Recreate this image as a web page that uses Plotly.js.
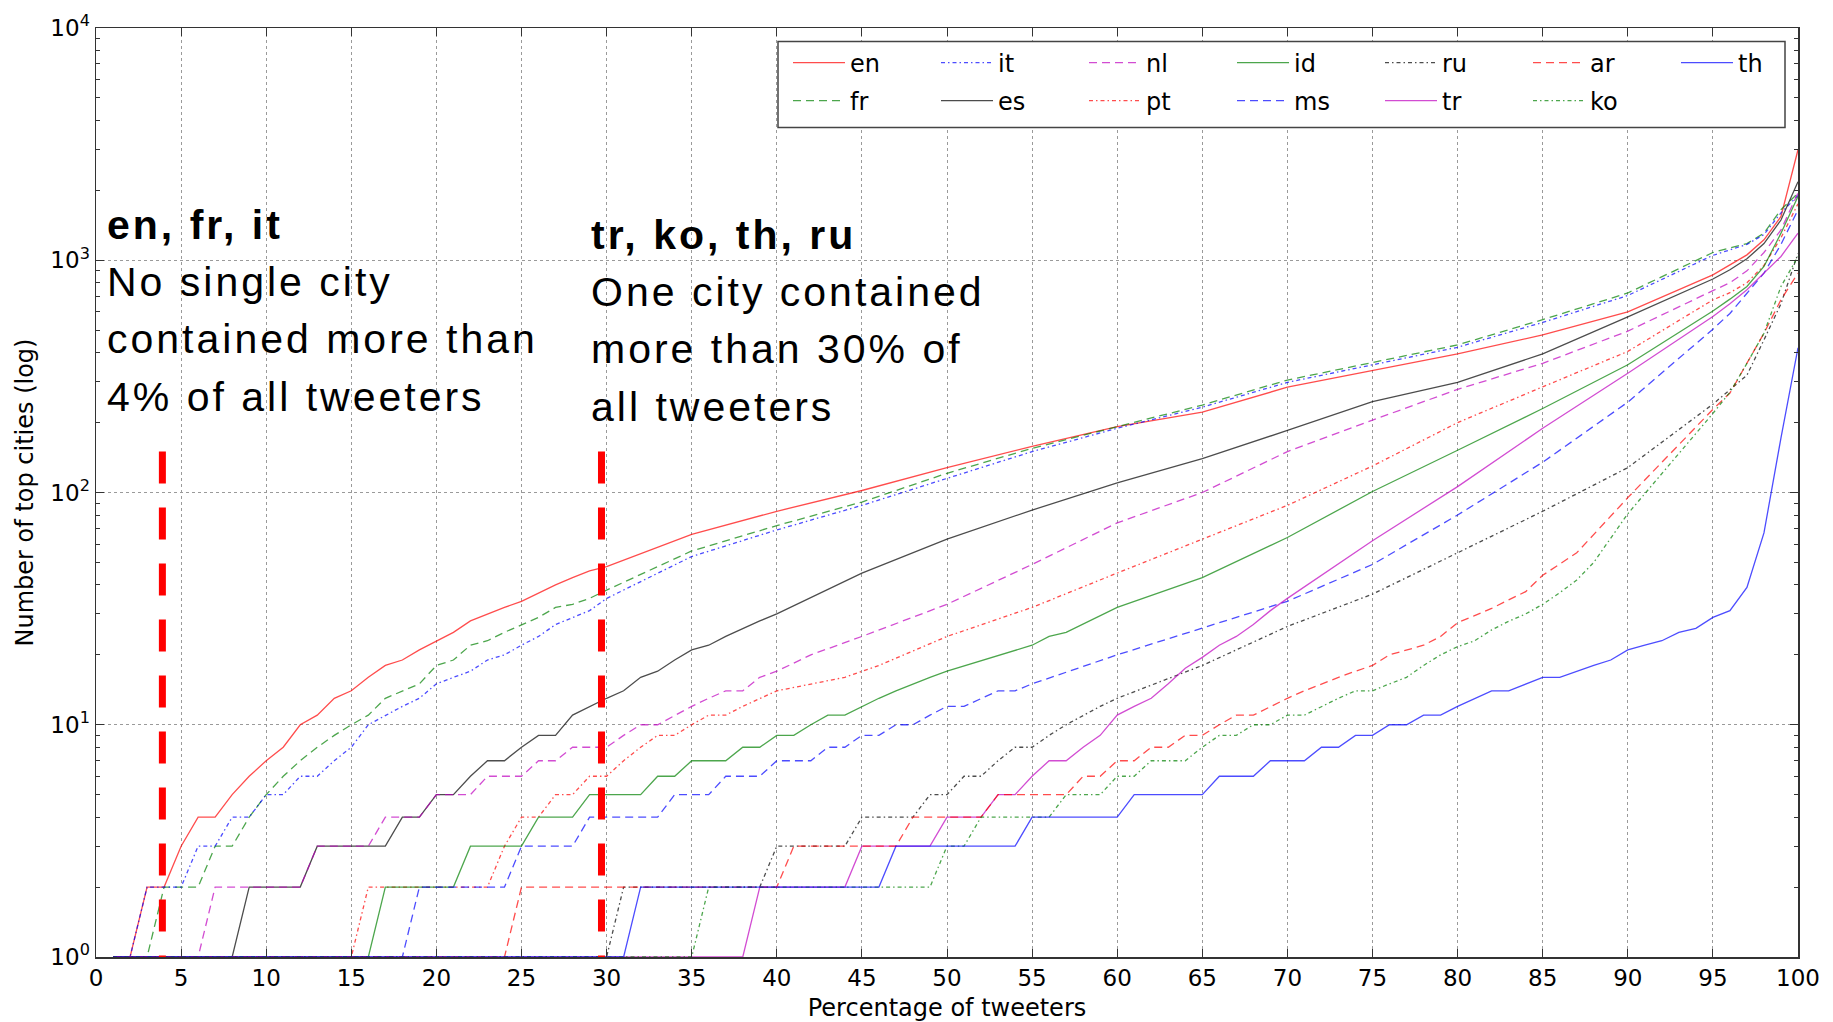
<!DOCTYPE html>
<html>
<head>
<meta charset="utf-8">
<script src="https://cdn.plot.ly/plotly-3.0.1.min.js"></script>
<style>
html,body{margin:0;padding:0;background:#ffffff;}
#chart{width:1833px;height:1022px;}
.annotation-text{letter-spacing:3px;}
</style>
</head>
<body>
<div id="chart"></div>
<script>
// ---------------- data (percentage of tweeters -> number of top cities) ----------------
const en_x = [1,2,3,4,5,6,7,8,9,10,11,12,13,14,15,16,17,18,19,20,21,22,23,24,25,26,27,28,29,30,35,40,45,50,55,60,65,70,75,80,85,90,95,96,97,98,99,100];
const en_y = [1,1,2,2,3,4,4,5,6,7,8,10,11,13,14,16,18,19,21,23,25,28,30,32,34,37,40,43,46,48,66,83,102,128,158,192,222,284,335,395,477,600,865,955,1055,1224,1543,2990];

const fr_x = [1,3,4,6,7,8,9,10,11,12,13,14,15,16,17,18,19,20,21,22,23,24,25,26,27,28,29,30,35,40,45,50,55,60,65,70,75,80,85,90,95,96,97,98,99,100];
const fr_y = [1,1,2,2,3,3,4,5,6,7,8,9,10,11,13,14,15,18,19,22,23,25,27,29,32,33,35,38,56,72,91,121,155,192,238,305,363,432,555,723,1080,1130,1180,1307,1650,1945];

const it_x = [1,2,3,5,6,7,8,9,10,11,12,13,14,15,16,17,18,19,20,21,22,23,24,25,26,27,28,29,30,35,40,45,50,55,60,65,70,75,80,85,90,95,96,97,98,99,100];
const it_y = [1,1,2,2,3,3,4,4,5,5,6,6,7,8,10,11,12,13,15,16,17,19,20,22,24,27,29,31,35,53,69,88,115,150,189,233,298,355,422,540,705,1050,1110,1170,1290,1600,1900];

const es_x = [1,8,9,12,13,17,18,19,20,21,22,23,24,25,26,27,28,29,30,31,32,33,34,35,36,37,38,39,40,45,50,55,60,65,70,75,80,85,90,95,96,97,98,99,100];
const es_y = [1,1,2,2,3,3,4,4,5,5,6,7,7,8,9,9,11,12,13,14,16,17,19,21,22,24,26,28,30,45,63,84,110,140,185,246,298,395,570,830,910,1015,1180,1490,2180];

const nl_x = [1,6,7,12,13,16,17,19,20,22,23,25,26,27,28,30,31,32,33,34,35,36,37,38,39,40,42,45,50,55,60,65,70,75,80,85,90,95,96,97,98,99,100];
const nl_y = [1,1,2,2,3,3,4,4,5,5,6,6,7,7,8,8,9,10,10,11,12,13,14,14,16,17,20,24,33,49,74,100,150,205,278,360,495,740,800,900,1080,1350,1950];

const pt_x = [1,15,16,23,24,25,26,27,28,29,30,31,32,33,34,35,36,37,38,39,40,44,46,50,55,60,65,70,75,80,85,90,95,96,97,98,99,100];
const pt_y = [1,1,2,2,3,4,4,5,5,6,6,7,8,9,9,10,11,11,12,13,14,16,18,24,32,45,63,88,130,200,285,405,675,725,800,950,1250,1750];

const id_x = [1,16,17,21,22,25,26,28,29,32,33,34,35,37,38,39,40,41,42,43,44,45,46,47,48,49,50,55,56,57,60,65,70,75,80,85,90,95,96,97,98,99,100];
const id_y = [1,1,2,2,3,3,4,4,5,5,6,6,7,7,8,8,9,9,10,11,11,12,13,14,15,16,17,22,24,25,32,43,64,101,152,230,355,605,680,771,940,1308,1880];

const ms_x = [1,18,19,24,25,28,29,33,34,36,37,39,40,42,43,44,45,46,47,48,49,50,51,52,53,54,55,60,65,70,75,80,85,90,95,96,97,98,99,100];
const ms_y = [1,1,2,2,3,3,4,4,5,5,6,6,7,7,8,8,9,9,10,10,11,12,12,13,14,14,15,20,26,34,49,80,135,245,505,590,721,880,1170,1650];

const ru_x = [1,30,31,39,40,44,45,48,49,50,51,52,53,54,55,56,57,58,59,60,65,70,75,80,85,90,95,96,97,98,99,100];
const ru_y = [1,1,2,2,3,3,4,4,5,5,6,6,7,8,8,9,10,11,12,13,18,26.5,36.5,55,83,128,240,277,320,454,650,1070];

const tr_x = [1,38,39,44,45,49,50,52,53,54,55,56,57,58,59,60,61,62,63,64,65,66,67,68,69,70,75,80,85,90,95,96,97,98,99,100];
const tr_y = [1,1,2,2,3,3,4,4,5,5,6,7,7,8,9,11,12,13,15,17.5,19.5,22,24,27,31,35,62,106,189,326,572,650,746,880,1038,1308];

const ar_x = [1,24,25,40,41,47,48,52,53,57,58,59,60,61,62,63,64,65,66,67,68,69,70,71,72,73,74,75,76,77,78,79,80,81,82,83,84,85,86,87,90,95,96,97,98,99,100];
const ar_y = [1,1,2,2,3,3,4,4,5,5,6,6,7,7,8,8,9,9,10,11,11,12,13,14,15,16,17,18,20,21,22,24,27.5,29.5,31.7,34.5,37.4,44,49,55,95,228,268,360,485,676,880];

const ko_x = [1,35,36,49,50,51,52,56,57,59,60,61,62,64,65,66,67,68,69,70,71,72,73,74,75,76,77,78,79,80,81,82,83,84,85,86,87,88,90,95,96,97,98,99,100];
const ko_y = [1,1,2,2,3,3,4,4,5,5,6,6,7,7,8,9,9,10,10,11,11,12,13,14,14,15,16,18,20,21.7,23,25.6,27.9,30,33,37,42,50,81,219,270,360,485,771,1038];

const th_x = [1,31,32,46,47,54,55,60,61,65,66,68,69,71,72,73,74,75,76,77,78,79,80,81,82,83,84,85,86,87,88,89,90,91,92,93,94,95,96,97,98,99,100];
const th_y = [1,1,2,2,3,3,4,4,5,5,6,6,7,7,8,8,9,9,10,10,11,11,12,13,14,14,15,16,16,17,18,19,21,22,23,25,26,29,31,39,67,172,420];

const languages = ['en','fr','it','es','nl','pt','id','ms','ru','tr','ar','ko','th'];
const seriesX = [en_x, fr_x, it_x, es_x, nl_x, pt_x, id_x, ms_x, ru_x, tr_x, ar_x, ko_x, th_x];
const seriesY = [en_y, fr_y, it_y, es_y, nl_y, pt_y, id_y, ms_y, ru_y, tr_y, ar_y, ko_y, th_y];

// annotation markers (percentage positions of red dashed lines, top in number of cities)
const markerPct = [3.9, 29.7];
const markerTop = 150;
const markerBottom = 1;

// tick labels
const yTickVals = [1, 10, 100, 1000, 10000];
const yTickText = ['10<sup>0</sup>','10<sup>1</sup>','10<sup>2</sup>','10<sup>3</sup>','10<sup>4</sup>'];
const minorDigits = [2,3,4,5,6,7,8,9];

// text blocks
const leftBlock = ['<b>en, fr, it</b>', 'No single city', 'contained more than', '4% of all tweeters'];
const rightBlock = ['<b>tr, ko, th, ru</b>', 'One city contained', 'more than 30% of', 'all tweeters'];

// ---------------- styling ----------------
const colorCycle = ['rgba(255,0,0,0.7)','rgba(0,128,0,0.7)','rgba(0,0,255,0.7)','rgba(0,0,0,0.7)','rgba(191,0,191,0.7)'];
const dashCycle = ['solid','8px,5px','4px,3px,1.5px,3px'];

const W = 1833, H = 1022;
const PL = 96, PR = 1798, PT = 28, PB = 957;
const px2x = px => (px - PL) / (PR - PL);
const py2y = py => (PB - py) / (PB - PT);

const traces = languages.map((name, i) => ({
  type: 'scatter',
  mode: 'lines',
  name: name,
  x: seriesX[i],
  y: seriesY[i],
  line: {color: colorCycle[i % 5], width: 1.3, dash: dashCycle[i % 3]},
  legend: (i % 2 === 0) ? 'legend' : 'legend2',
  hoverinfo: 'skip'
}));

const minorVals = [];
[1, 10, 100, 1000].forEach(d => minorDigits.forEach(k => minorVals.push(d * k)));

const shapes = markerPct.map(p => ({
  type: 'line', xref: 'x', yref: 'y',
  x0: p, x1: p, y0: markerTop, y1: markerBottom,
  line: {color: '#ff0000', width: 7, dash: '32px,24px'},
  layer: 'above'
}));
shapes.push({
  type: 'rect', xref: 'paper', yref: 'paper',
  x0: px2x(778), x1: px2x(1785), y0: py2y(127.5), y1: py2y(41.5),
  fillcolor: '#ffffff', line: {color: '#444444', width: 1.5}, layer: 'above'
});

const annFont = {family: 'Liberation Sans, Arial, sans-serif', size: 41, color: '#000000'};
const leftY = [225, 282, 339, 397];
const rightY = [235, 292, 349, 407];
const annotations = [];
leftBlock.forEach((t, i) => annotations.push({
  xref: 'paper', yref: 'paper', x: px2x(105), y: py2y(leftY[i]),
  xanchor: 'left', yanchor: 'middle', align: 'left', showarrow: false,
  text: t, font: annFont
}));
rightBlock.forEach((t, i) => annotations.push({
  xref: 'paper', yref: 'paper', x: px2x(589), y: py2y(rightY[i]),
  xanchor: 'left', yanchor: 'middle', align: 'left', showarrow: false,
  text: t, font: annFont
}));

const legendCommon = {
  orientation: 'h', xanchor: 'left', yanchor: 'middle',
  x: px2x(788), bgcolor: 'rgba(0,0,0,0)', borderwidth: 0,
  font: {family: 'DejaVu Sans, sans-serif', size: 24, color: '#000'},
  itemwidth: 52, entrywidth: 81, entrywidthmode: 'pixels',
  traceorder: 'normal'
};

const layout = {
  width: W, height: H,
  margin: {l: PL, r: W - PR, t: PT, b: H - PB, pad: 0, autoexpand: false},
  paper_bgcolor: '#ffffff', plot_bgcolor: '#ffffff',
  font: {family: 'DejaVu Sans, sans-serif', size: 23, color: '#000'},
  showlegend: true,
  legend: Object.assign({}, legendCommon, {y: py2y(63)}),
  legend2: Object.assign({}, legendCommon, {y: py2y(101)}),
  xaxis: {
    range: [0, 100], tick0: 0, dtick: 5, tickmode: 'linear',
    ticks: 'inside', ticklen: 8, tickwidth: 1, tickcolor: '#333',
    showline: true, linecolor: '#333', linewidth: 1.5, mirror: 'ticks',
    showgrid: true, gridcolor: '#9a9a9a', griddash: 'dot', gridwidth: 1,
    zeroline: false, automargin: false,
    tickfont: {family: 'DejaVu Sans, sans-serif', size: 23, color: '#000'},
    title: {text: 'Percentage of tweeters', font: {family: 'DejaVu Sans, sans-serif', size: 24, color: '#000'}, standoff: 9}
  },
  yaxis: {
    type: 'log', range: [0, 4],
    tickmode: 'array', tickvals: yTickVals, ticktext: yTickText,
    ticks: 'inside', ticklen: 8, tickwidth: 1, tickcolor: '#333',
    showline: true, linecolor: '#333', linewidth: 1.5, mirror: 'ticks',
    showgrid: true, gridcolor: '#9a9a9a', griddash: 'dot', gridwidth: 1,
    zeroline: false, automargin: false,
    minor: {tickmode: 'array', tickvals: minorVals, ticks: 'inside', ticklen: 4, tickcolor: '#333', showgrid: false},
    tickfont: {family: 'DejaVu Sans, sans-serif', size: 23, color: '#000'},
    title: {text: 'Number of top cities (log)', font: {family: 'DejaVu Sans, sans-serif', size: 24, color: '#000'}, standoff: 10}
  },
  shapes: shapes,
  annotations: annotations,
  hovermode: false
};

Plotly.newPlot('chart', traces, layout, {staticPlot: true, displayModeBar: false});
</script>
</body>
</html>
